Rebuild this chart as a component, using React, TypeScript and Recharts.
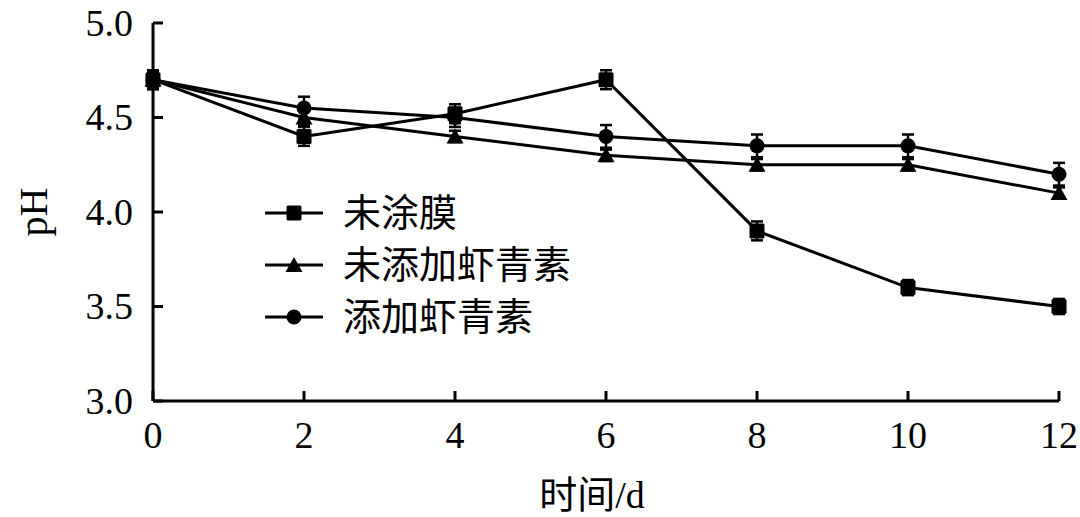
import { LineChart, Line, XAxis, YAxis, ErrorBar, Legend } from "recharts";

// 时间/d
const days = [0, 2, 4, 6, 8, 10, 12];
const yTicks = [3.0, 3.5, 4.0, 4.5, 5.0];

// pH values
const noCoat = [4.7, 4.4, 4.52, 4.7, 3.9, 3.6, 3.5];
const noCoatErr = [0.05, 0.05, 0.05, 0.05, 0.05, 0.04, 0.04];
const noAst = [4.7, 4.5, 4.4, 4.3, 4.25, 4.25, 4.1];
const noAstErr = [0.04, 0.04, 0.03, 0.03, 0.03, 0.03, 0.03];
const withAst = [4.7, 4.55, 4.5, 4.4, 4.35, 4.35, 4.2];
const withAstErr = [0.05, 0.06, 0.05, 0.06, 0.06, 0.06, 0.06];

const SERIES = [
  { key: "a", name: "未涂膜", shape: "square" },
  { key: "b", name: "未添加虾青素", shape: "triangle" },
  { key: "c", name: "添加虾青素", shape: "circle" },
];

const data = days.map((d, i) => ({
  day: d,
  a: noCoat[i],
  aErr: noCoatErr[i],
  b: noAst[i],
  bErr: noAstErr[i],
  c: withAst[i],
  cErr: withAstErr[i],
}));

const FONT = '"Liberation Serif", "Noto Sans CJK SC", serif';
const TICK_SIZE = 38;

function marker(shape: string, cx: number, cy: number, key?: any) {
  if (shape === "square")
    return <rect key={key} x={cx - 7.5} y={cy - 7.5} width={15} height={15} rx={1.5} fill="#000" />;
  if (shape === "triangle")
    return (
      <polygon
        key={key}
        points={`${cx},${cy - 8} ${cx - 8.5},${cy + 7} ${cx + 8.5},${cy + 7}`}
        fill="#000"
      />
    );
  return <circle key={key} cx={cx} cy={cy} r={7.5} fill="#000" />;
}

const makeDot = (shape: string) => (p: any) => {
  if (p.cx == null || p.cy == null) return <g key={`e${p.index}`} />;
  return marker(shape, p.cx, p.cy, `${shape}${p.index}`);
};

const XTick = ({ x, y, payload }: any) => (
  <text x={x} y={y} dy="0.71em" textAnchor="middle" fill="#000" fontSize={TICK_SIZE} fontFamily={FONT}>
    {payload.value}
  </text>
);

const YTick = ({ x, y, payload }: any) => (
  <text x={x} y={y} dy="0.34em" textAnchor="end" fill="#000" fontSize={TICK_SIZE} fontFamily={FONT}>
    {Number(payload.value).toFixed(1)}
  </text>
);

const LegendBox = () => (
  <div style={{ fontFamily: FONT }}>
    {SERIES.map((s) => (
      <div key={s.key} style={{ display: "flex", alignItems: "center", height: 52 }}>
        <svg width={60} height={20} style={{ display: "block" }}>
          <line x1={0} y1={10} x2={58} y2={10} stroke="#000" strokeWidth={3} />
          {marker(s.shape, 29, 10)}
        </svg>
        <span style={{ fontSize: 38, marginLeft: 18, color: "#000", lineHeight: 1 }}>{s.name}</span>
      </div>
    ))}
  </div>
);

export default function App() {
  return (
    <div style={{ position: "absolute", left: 0, top: 0, background: "#fff", fontFamily: FONT }}>
      <LineChart width={1080} height={517} data={data} margin={{ top: 23, right: 21, left: 0, bottom: 0 }}>
        <XAxis
          dataKey="day"
          type="number"
          domain={[0, 12]}
          ticks={days}
          height={116}
          stroke="#000"
          strokeWidth={3}
          tickSize={-10}
          tickMargin={30}
          tick={<XTick />}
          label={{
            value: "时间/d",
            position: "insideBottom",
            offset: 9,
            dx: -14,
            fill: "#000",
            style: { fontSize: 38 },
          }}
        />
        <YAxis
          type="number"
          domain={[3, 5]}
          ticks={yTicks}
          width={153}
          stroke="#000"
          strokeWidth={3}
          tickSize={-10}
          tickMargin={30}
          tick={<YTick />}
          label={{
            value: "pH",
            angle: -90,
            position: "insideLeft",
            offset: 33,
            fill: "#000",
            style: { textAnchor: "middle", fontSize: 40 },
          }}
        />
        <Legend
          layout="vertical"
          align="center"
          verticalAlign="middle"
          content={() => <LegendBox />}
          wrapperStyle={{ left: 265, top: 187, width: 360 }}
        />
        {SERIES.map((s) => (
          <Line
            key={s.key}
            dataKey={s.key}
            name={s.name}
            type="linear"
            stroke="#000"
            strokeWidth={3}
            dot={makeDot(s.shape)}
            activeDot={false}
            isAnimationActive={false}
          >
            <ErrorBar dataKey={`${s.key}Err`} direction="y" width={6} stroke="#000" strokeWidth={2.5} />
          </Line>
        ))}
      </LineChart>
    </div>
  );
}
